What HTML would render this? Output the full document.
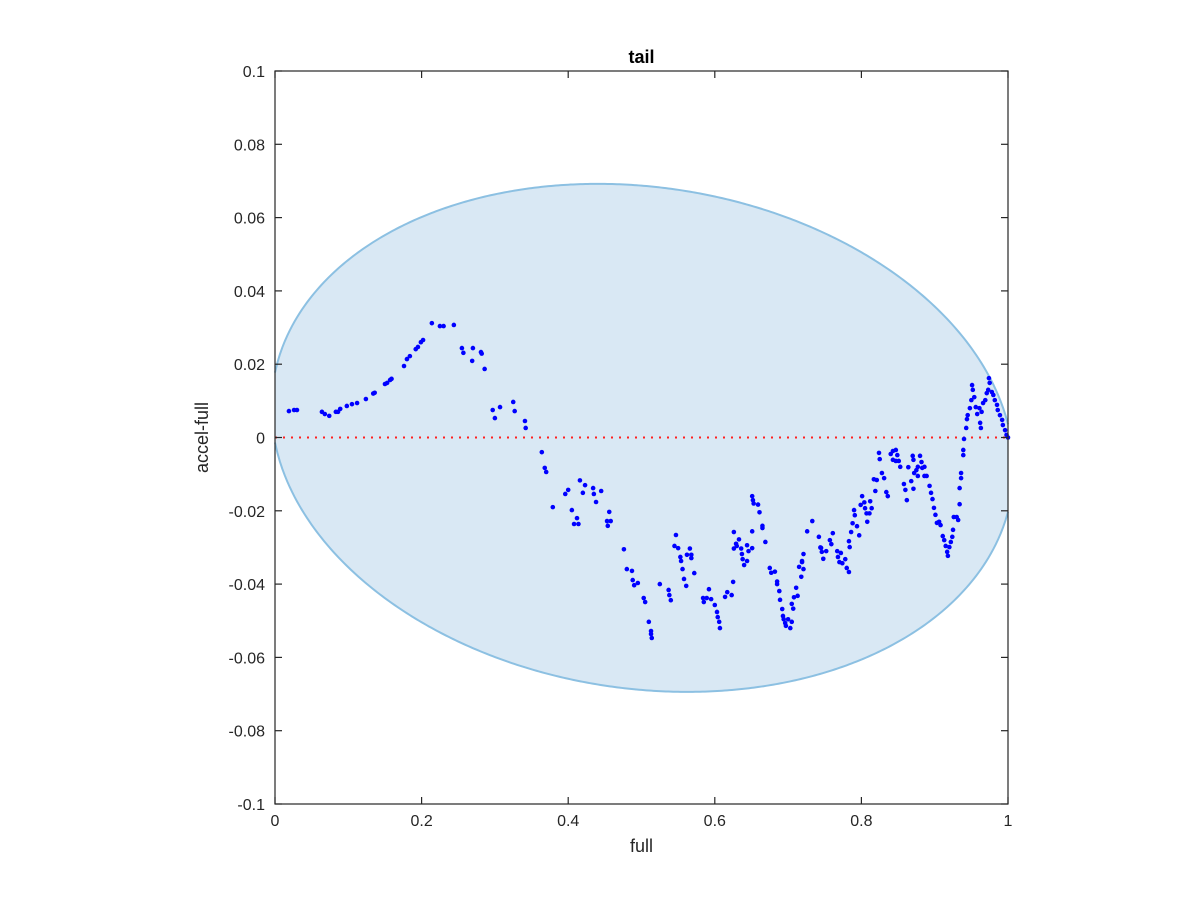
<!DOCTYPE html>
<html><head><meta charset="utf-8"><style>
body{margin:0;background:#fff;}
svg{display:block;font-family:"Liberation Sans",Arial,sans-serif;}
</style></head><body>
<svg id="chart" width="1200" height="900"></svg>
<script>
const xTicks=[0,0.2,0.4,0.6,0.8,1];
const xTickLabels=["0","0.2","0.4","0.6","0.8","1"];
const yTicks=[0.1,0.08,0.06,0.04,0.02,0,-0.02,-0.04,-0.06,-0.08,-0.1];
const yTickLabels=["0.1","0.08","0.06","0.04","0.02","0","-0.02","-0.04","-0.06","-0.08","-0.1"];
const ptsX=[.019,.026,.030,.064,.068,.074,.083,.086,.089,.098,.105,.112,.124,.134,.136,.150,.153,.157,.159,.176,.180,.184,.192,.195,.199,.202,.214,.225,.230,.244,.255,.257,.270,.269,.281,.282,.286,.297,.300,.307,.325,.327,.341,.342,.364,.368,.370,.379,.396,.400,
.405,.408,.412,.414,.416,.420,.423,.434,.435,.438,.445,.456,.453,.458,.454,.476,.480,.487,.488,.490,.495,.503,.505,.510,.513,.513,.514,.525,.537,.538,.540,.547,.545,.550,.553,.554,.556,.558,.561,.562,.566,.568,.568,.572,.584,.585,.589,.592,.595,.600,.603,.604,.606,.607,.614,.617,.623,.625,.626,.626,.629,.630,.633,.636,.637,.638,.640,.644,.644,.646,.651,.651,.651,.652,.653,.659,.661,.665,.665,.669,.675,.677,.682,.685,.685,.688,.689,.692,.693,.694,.696,.697,.700,.703,.705,.705,.707,.708,.711,.713,.715,.718,.719,.721,.721,.726,.733,.742,.744,
.719,.745,.746,.748,.752,.757,.759,.761,.767,.768,.770,.772,.774,.778,.780,.783,.783,.784,.786,.788,.791,.790,.794,.797,.799,.801,.804,.805,.808,.807,.811,.812,.814,.817,.819,.821,.824,.825,.828,.831,.834,.836,.840,.843,.847,.849,.843,.847,.851,.853,.858,.860,.862,.864,.868,.870,.871,.871,.872,.875,.877,.877,.880,.882,.883,.886,.886,.889,.893,.895,.897,.899,.901,.903,.906,.908,.911,.913,.915,.917,.918,.920,.922,.924,.925,.926,.930,.932,.934,.934,.936,.936,.939,.939,.940,.943,.944,.945,.948,.950,.951,.952,.954,.956,.958,.962,.963,.961,.964,.966,.969,.971,.973,.974,.975,.978,.980,.982,.985,.986,.989,.992,.993,.996,.998,1.0];
const ptsY=[.0072,.0075,.0075,.007,.0064,.0059,.007,.007,.0078,.0086,.0091,.0094,.0105,.012,.0122,.0146,.0149,.0157,.016,.0195,.0214,.0222,.0241,.0247,.026,.0266,.0312,.0304,.0304,.0307,.0244,.0231,.0244,.0209,.0233,.0229,.0187,.0075,.0053,.0083,.0097,.0072,.0045,.0026,-.004,-.0083,-.0094,-.019,-.0154,-.0143,
-.0198,-.0236,-.022,-.0236,-.0117,-.0151,-.013,-.0138,-.0154,-.0176,-.0146,-.0203,-.0228,-.0228,-.0241,-.0305,-.0359,-.0364,-.0389,-.0403,-.0397,-.0438,-.0449,-.0503,-.0528,-.0536,-.0547,-.040,-.0416,-.043,-.0444,-.0266,-.0296,-.0302,-.0326,-.0337,-.0359,-.0386,-.0405,-.032,-.0303,-.032,-.0329,-.037,-.0438,-.0449,-.0438,-.0414,-.0441,-.0457,-.0476,-.049,-.0503,-.052,-.0435,-.0422,-.043,-.0394,-.0303,-.0258,-.029,-.0296,-.0278,-.0303,-.0318,-.0332,-.0348,-.0337,-.0294,-.031,-.0302,-.0256,-.016,-.0171,-.018,-.0183,-.0204,-.0241,-.0247,-.0285,-.0356,-.0369,-.0366,-.0393,-.040,-.0419,-.0443,-.0468,-.0487,-.0496,-.0506,-.0514,-.0496,-.052,-.0503,-.0454,-.0467,-.0436,-.041,-.0432,-.0353,-.038,-.0337,-.0318,-.0359,-.0256,-.0228,-.0271,-.030,
-.034,-.0301,-.0312,-.0331,-.031,-.028,-.0291,-.0261,-.031,-.0326,-.034,-.0315,-.0343,-.0332,-.0356,-.0367,-.0283,-.0299,-.0258,-.0234,-.0212,-.0198,-.0242,-.0267,-.0184,-.016,-.0177,-.0193,-.023,-.0207,-.0207,-.0174,-.0193,-.0114,-.0146,-.0116,-.0042,-.0059,-.0097,-.0111,-.0149,-.016,-.0045,-.0037,-.0034,-.0048,-.0061,-.0064,-.0064,-.008,-.0127,-.0143,-.0171,-.0081,-.0119,-.005,-.0061,-.014,-.0097,-.0089,-.0105,-.008,-.005,-.0067,-.0083,-.008,-.0105,-.0105,-.0132,-.0151,-.0168,-.0192,-.0211,-.0233,-.023,-.0239,-.0269,-.028,-.0296,-.0312,-.0323,-.0299,-.0285,-.0271,-.0252,-.0217,-.0217,-.0225,-.0182,-.0138,-.0111,-.0097,-.0034,-.0048,-.0004,.0026,.005,.0061,.008,.0102,.0143,.013,.011,.0083,.0064,.004,.0026,.008,.007,.0094,.0102,.0121,.013,.0162,.0149,.0124,.0116,.0102,.0089,.0075,.0061,.0048,.0034,.002,.0007,0];
const ellCenterX=0.5014, ellCenterY=-0.0001, ellHalfW=0.5063, ellHalfH=0.0688, ellSlope=-0.0165;

const L=275,R=1008,T=71,B=804;
const sx=v=>L+(v-0)/(1-0)*(R-L);
const sy=v=>T+(0.1-v)/0.2*(B-T);
const NS="http://www.w3.org/2000/svg";
const svg=document.getElementById('chart');
function mk(tag,attrs,parent){const e=document.createElementNS(NS,tag);for(const k in attrs)e.setAttribute(k,attrs[k]);(parent||svg).appendChild(e);return e;}

function ellMid(x){return ellCenterY+ellSlope*(x-ellCenterX);}
function ellHalf(x){const u=(x-ellCenterX)/ellHalfW;return ellHalfH*Math.sqrt(Math.max(0,1-u*u));}
const upperPts=[],lowerPts=[];
for(let i=0;i<=300;i++){const x=i/300;upperPts.push([sx(x),sy(ellMid(x)+ellHalf(x))]);lowerPts.push([sx(x),sy(ellMid(x)-ellHalf(x))]);}
const fillPts=upperPts.concat(lowerPts.slice().reverse());
const region=mk('polygon',{points:fillPts.map(p=>p.join(',')).join(' '),fill:'#d9e8f4',stroke:'none'});


const topLine=mk('polyline',{points:upperPts.map(p=>p.join(',')).join(' '),fill:'none',stroke:'#8cc0e2','stroke-width':2});


const botLine=mk('polyline',{points:lowerPts.map(p=>p.join(',')).join(' '),fill:'none',stroke:'#8cc0e2','stroke-width':2});



const zl=mk('line',{x1:sx(0),x2:sx(1),y1:sy(0),y2:sy(0),stroke:'#ff2020','stroke-width':2,'stroke-dasharray':'2 6'});



const g=mk('g',{fill:'#0000ff'});


for(let i=0;i<ptsX.length;i++){
  const c=mk('circle',{cx:sx(ptsX[i]),cy:sy(ptsY[i]),r:2.3},g);
  
  
}

const box=mk('rect',{x:L,y:T,width:R-L,height:B-T,fill:'none',stroke:'#262626','stroke-width':1.2});


xTicks.forEach((v,i)=>{
  const x=sx(v);
  mk('line',{x1:x,x2:x,y1:B,y2:B-7,stroke:'#262626','stroke-width':1.2});
  mk('line',{x1:x,x2:x,y1:T,y2:T+7,stroke:'#262626','stroke-width':1.2});
  const t=mk('text',{x:x,y:B+22,'text-anchor':'middle','font-size':16,fill:'#262626'});
  t.textContent=xTickLabels[i];
  
  
});
yTicks.forEach((v,i)=>{
  const y=sy(v);
  mk('line',{x1:L,x2:L+7,y1:y,y2:y,stroke:'#262626','stroke-width':1.2});
  mk('line',{x1:R,x2:R-7,y1:y,y2:y,stroke:'#262626','stroke-width':1.2});
  const t=mk('text',{x:L-10,y:y+6,'text-anchor':'end','font-size':16,fill:'#262626'});
  t.textContent=yTickLabels[i];
  
  
});
const xt=mk('text',{x:(L+R)/2,y:B+48,'text-anchor':'middle','font-size':18,fill:'#262626'});
xt.textContent='full';


const yt=mk('text',{x:0,y:0,'text-anchor':'middle','font-size':18,fill:'#262626',transform:`translate(208,${(T+B)/2}) rotate(-90)`});
yt.textContent='accel-full';


const tt=mk('text',{x:(L+R)/2,y:T-8,'text-anchor':'middle','font-size':18,'font-weight':'bold',fill:'#000'});
tt.textContent='tail';


</script>
</body></html>
